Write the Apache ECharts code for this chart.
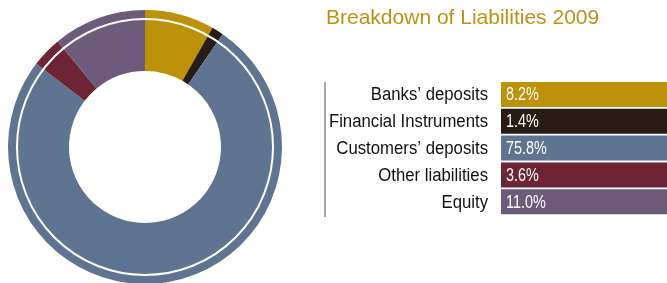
<!DOCTYPE html>
<html>
<head>
<meta charset="utf-8">
<script src="https://cdn.jsdelivr.net/npm/echarts@6/dist/echarts.min.js"></script>
<style>
html, body { margin: 0; padding: 0; background: #fff; }
#main { width: 667px; height: 283px; }
</style>
</head>
<body>
<div id="main"></div>
<script>
var names = ['Banks\u2019 deposits', 'Financial Instruments', 'Customers\u2019 deposits', 'Other liabilities', 'Equity'];
var values = [8.2, 1.4, 75.8, 3.6, 11.0];
var colors = ['#bd9109', '#271d14', '#5e7490', '#6d2435', '#6c5b7b'];

var chart = echarts.init(document.getElementById('main'));

// legend table on the right
var graphics = [];
graphics.push({
	type : 'text',
	left : 326,
	top : 8,
	style : {
		text : 'Breakdown of Liabilities 2009',
		fill : '#bc9214',
		font : '21px "Liberation Sans", Arial, sans-serif'
	}
});
graphics.push({
	type : 'rect',
	shape : { x : 324, y : 82, width : 2, height : 135 },
	style : { fill : '#a9a9ad' }
});
var rowTop = 82, rowStep = 26.8, rowH = 25;
for (var i = 0; i < names.length; i++) {
	var y = rowTop + i * rowStep;
	graphics.push({
		type : 'rect',
		shape : { x : 501, y : y, width : 166, height : rowH },
		style : { fill : colors[i] }
	});
	graphics.push({
		type : 'text',
		x : 488,
		y : y + rowH / 2 + 1,
		scaleX : 0.93,
		style : {
			x : 0,
			y : 0,
			text : names[i],
			align : 'right',
			verticalAlign : 'middle',
			fill : '#111',
			font : '18px "Liberation Sans", Arial, sans-serif'
		}
	});
	// narrow white percentage inside the bar
	graphics.push({
		type : 'text',
		x : 506,
		y : y + rowH / 2 + 1,
		scaleX : 0.8,
		style : {
			x : 0,
			y : 0,
			text : values[i].toFixed(1) + '%',
			align : 'left',
			verticalAlign : 'middle',
			fill : '#fff',
			font : '18px "Liberation Sans", Arial, sans-serif'
		}
	});
}
// thin white ring inside the donut
graphics.push({
	type : 'circle',
	shape : { cx : 145, cy : 147, r : 128 },
	style : { fill : null, stroke : '#fff', lineWidth : 2 },
	z : 100
});

var option = {
	backgroundColor : '#fff',
	animation : false,
	series : [ {
		type : 'pie',
		center : [ 145, 147 ],
		radius : [ 76, 137 ],
		startAngle : 90,
		clockwise : true,
		label : { show : false },
		labelLine : { show : false },
		itemStyle : { borderWidth : 0 },
		data : names.map(function(n, i) {
			return { name : n, value : values[i], itemStyle : { color : colors[i] } };
		})
	} ],
	graphic : graphics
};
chart.setOption(option);
</script>
</body>
</html>
